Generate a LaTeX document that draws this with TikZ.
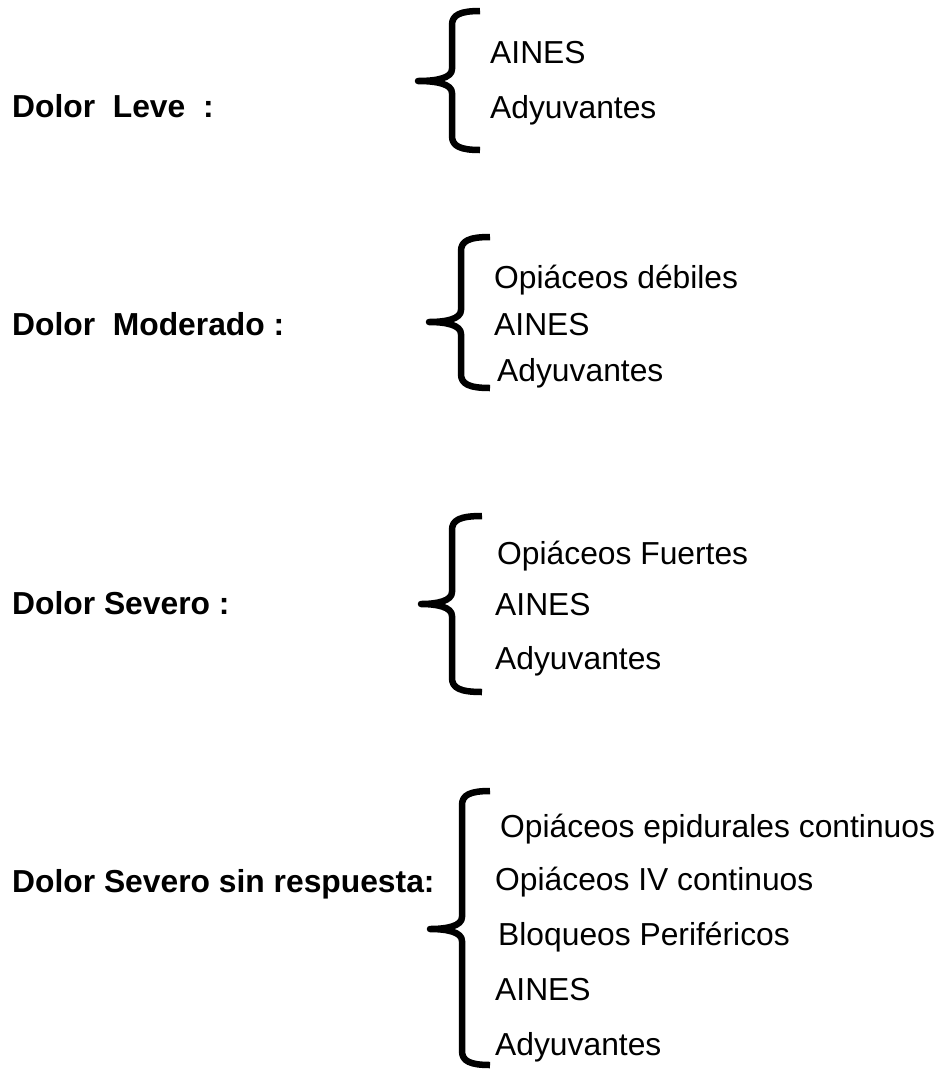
\documentclass[tikz,border=0pt]{standalone}
\usepackage{fontspec}
\setmainfont{Liberation Sans}
\tikzset{
  lbl/.style={anchor=base west, inner sep=0pt, font=\fontsize{31.8}{38}\selectfont\bfseries},
  item/.style={anchor=base west, inner sep=0pt, font=\fontsize{31.8}{38}\selectfont},
  bracepath/.style={line width=6.5pt, line cap=butt, line join=round}
}
% #1 hook end x, #2 vertical x, #3 tip x, #4 top y, #5 tip y, #6 bottom y
\newcommand\curlybr[6]{%
  \draw[bracepath] (#1,#4) .. controls ({#2+8},#4) and (#2,{#4+4}) .. (#2,{#4+14})
    -- (#2,{#5-12}) .. controls (#2,{#5-3}) and ({#2-15},#5) .. (#3,#5)
    .. controls ({#2-15},#5) and (#2,{#5+3}) .. (#2,{#5+12})
    -- (#2,{#6-14}) .. controls (#2,{#6-4}) and ({#2+8},#6) .. (#1,#6);}
\begin{document}
\begin{tikzpicture}[x=1pt,y=-1pt]
\fill[white] (0,0) rectangle (944,1072);
\useasboundingbox (0,0) rectangle (944,1072);

% Group 1
\node[lbl] (l1) at (12,117) {Dolor\ \ Leve\ \ :};
\curlybr{480}{452}{418}{11}{81}{150}
\node[item] (a1) at (490,63) {AINES};
\node[item] (b1) at (490,118) {Adyuvantes};

% Group 2
\node[lbl] (l2) at (12,335) {Dolor\ \ Moderado :};
\curlybr{490}{461}{429}{237}{322}{388}
\node[item] (o2) at (494,288) {Opiáceos débiles};
\node[item] (a2) at (494,335) {AINES};
\node[item] (b2) at (497,381) {Adyuvantes};

% Group 3
\node[lbl] (l3) at (12,614) {Dolor Severo :};
\curlybr{482}{452}{421}{516}{604}{692}
\node[item] (o3) at (497,564) {Opiáceos Fuertes};
\node[item] (a3) at (495,615) {AINES};
\node[item] (b3) at (495,669) {Adyuvantes};

% Group 4
\node[lbl] (l4) at (12,892) {Dolor Severo sin respuesta:};
\curlybr{490}{462}{430}{791}{929}{1065}
\node[item] (o4) at (500,837) {Opiáceos epidurales continuos};
\node[item] (i4) at (495,890) {Opiáceos IV continuos};
\node[item] (p4) at (498,945) {Bloqueos Periféricos};
\node[item] (a4) at (495,1000) {AINES};
\node[item] (b4) at (495,1055) {Adyuvantes};
\end{tikzpicture}
\end{document}
